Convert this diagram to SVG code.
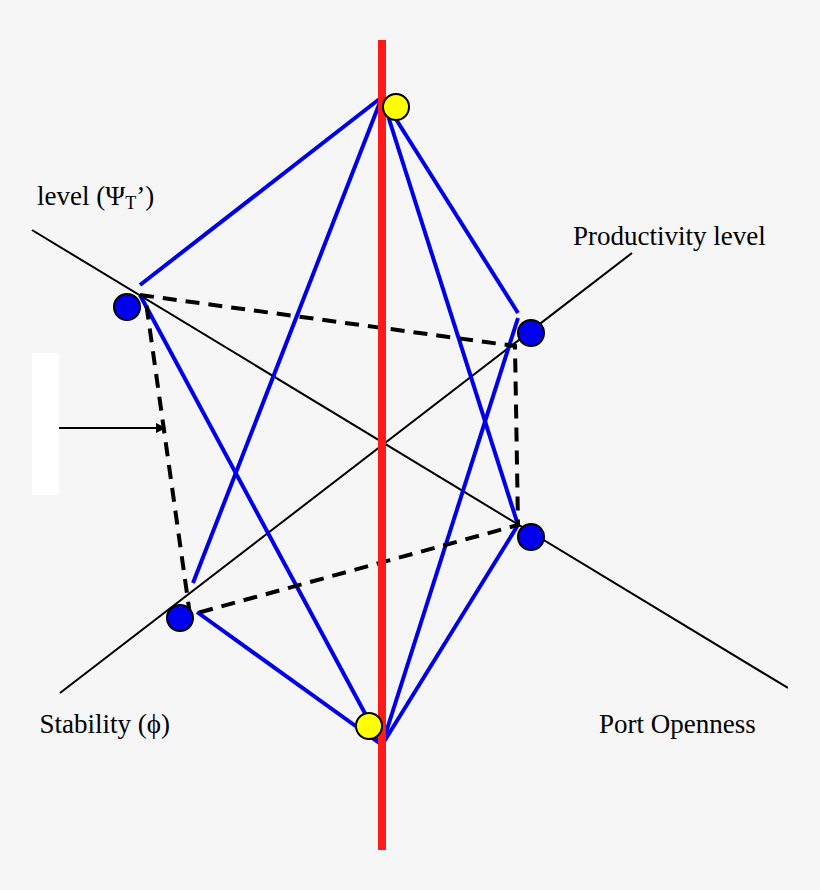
<svg xmlns="http://www.w3.org/2000/svg" width="820" height="890" viewBox="0 0 820 890">
<defs>
<clipPath id="c"><rect x="20" y="0" width="768" height="890"/></clipPath>
<marker id="ah" markerWidth="10" markerHeight="10" refX="9" refY="5" orient="auto" markerUnits="userSpaceOnUse"><path d="M0,0 L10,5 L0,10 z" fill="#000"/></marker>
<style>
.ax{stroke:#000;stroke-width:2;fill:none}
.bl{stroke:#0000e6;stroke-width:4;fill:none}
.ds{stroke:#000;stroke-width:4;stroke-dasharray:14 9;fill:none}
.t{font-family:"Liberation Serif",serif;font-size:27px;fill:#000}
.bn{fill:#0000ee;stroke:#000;stroke-width:2}
.yn{fill:#ffff00;stroke:#000;stroke-width:2}
</style>
</defs>
<rect width="820" height="890" fill="#f6f6f6"/>
<g clip-path="url(#c)">
<g id="connectors">
<line class="ax" x1="32" y1="230" x2="788" y2="688"/>
<line class="ax" x1="60" y1="693" x2="632" y2="253"/>
<line class="bl" x1="382" y1="97" x2="140" y2="285"/>
<line class="bl" x1="382" y1="97" x2="193" y2="583"/>
<line class="bl" x1="382" y1="97" x2="518" y2="313"/>
<line class="bl" x1="382" y1="97" x2="518" y2="525"/>
<line class="bl" x1="382" y1="745" x2="140" y2="295"/>
<line class="bl" x1="382" y1="745" x2="197" y2="612"/>
<line class="bl" x1="382" y1="745" x2="518" y2="318"/>
<line class="bl" x1="382" y1="745" x2="518" y2="525"/>
<polyline class="ds" points="140,295 515,346 518,525 190,615 145,295"/>
<line x1="382" y1="40" x2="382" y2="850" stroke="#ff1a1a" stroke-width="8"/>
<line x1="59" y1="428" x2="165" y2="428" stroke="#000" stroke-width="2" marker-end="url(#ah)"/>
</g>
<rect x="32" y="353" width="27" height="142" fill="#fff"/>
<g id="nodes">
<g id="y1"><circle class="yn" cx="396" cy="107" r="13"/></g>
<g id="y2"><circle class="yn" cx="369" cy="726" r="13"/></g>
<g id="b1"><circle class="bn" cx="127" cy="307" r="13"/></g>
<g id="b2"><circle class="bn" cx="531" cy="333" r="13"/></g>
<g id="b3"><circle class="bn" cx="531" cy="537" r="13"/></g>
<g id="b4"><circle class="bn" cx="180" cy="618" r="13"/></g>
</g>
<g id="labels">
<text class="t" x="37" y="205">level (Ψ<tspan font-size="18" dy="4">T</tspan><tspan dy="-4">’)</tspan></text>
<text class="t" x="573" y="245">Productivity level</text>
<text class="t" x="599" y="733">Port Openness</text>
<text class="t" x="170" y="733" text-anchor="end">Stability (ϕ)</text>
</g>
</g>
</svg>
